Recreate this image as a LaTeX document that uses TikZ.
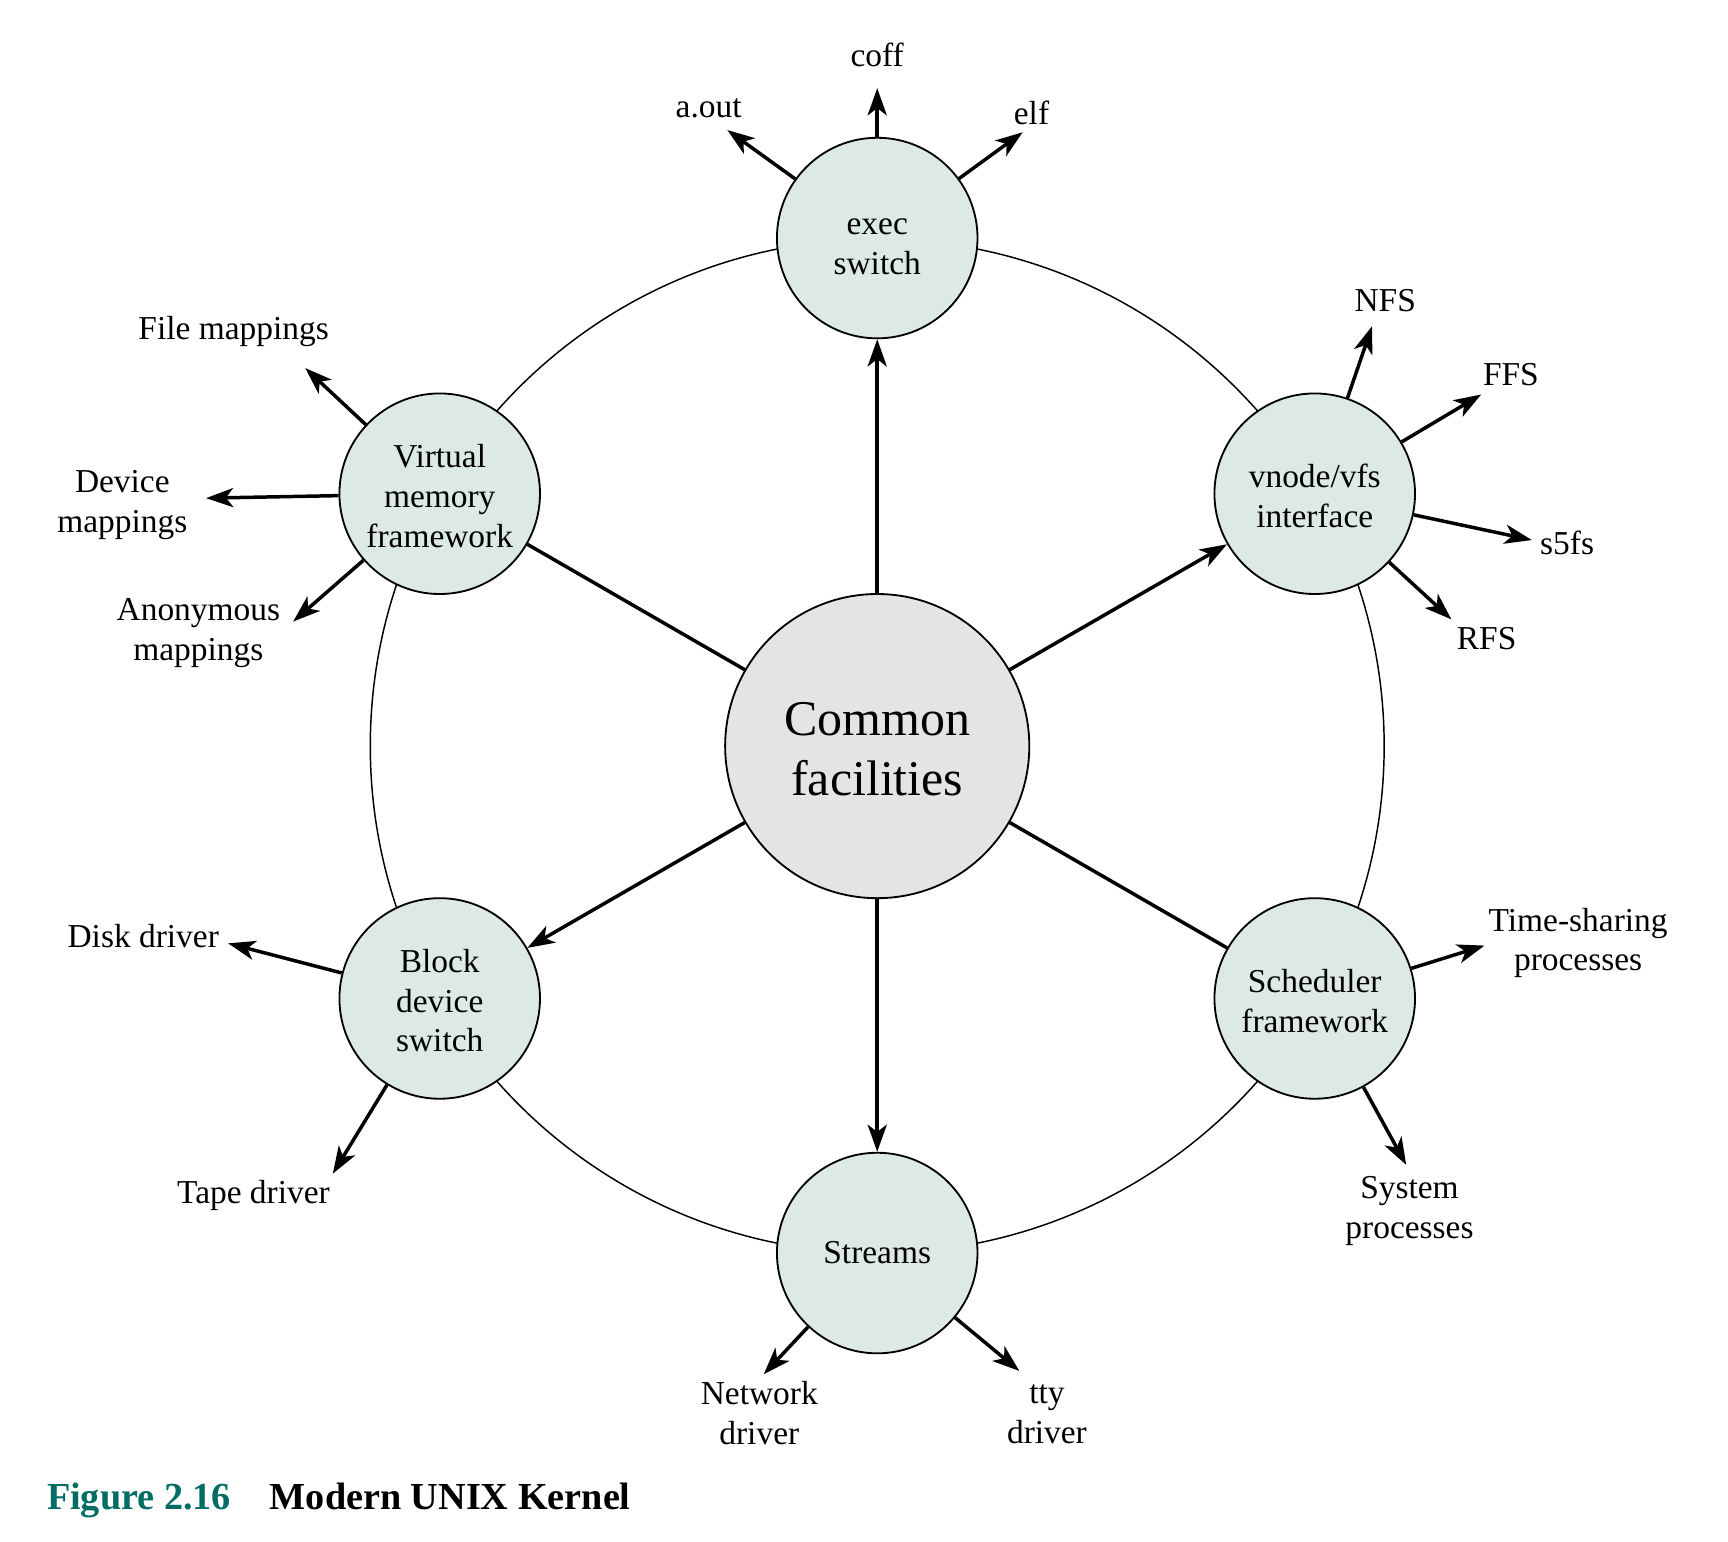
\documentclass[tikz,border=0pt]{standalone}
\usepackage{fontspec}
\setmainfont{Liberation Serif}
\usetikzlibrary{arrows.meta}
\definecolor{subfill}{RGB}{221,233,230}
\definecolor{corefill}{RGB}{228,228,226}
\definecolor{figteal}{RGB}{0,108,99}
\begin{document}
\begin{tikzpicture}[x=0.3pt,y=-0.3pt,
  sub/.style={circle,draw,line width=0.5pt,fill=subfill,minimum size=54.6pt,inner sep=0pt},
  core/.style={circle,draw,line width=0.5pt,fill=corefill,minimum size=82.8pt,inner sep=0pt},
  subtext/.style={align=center,inner sep=0pt,font=\fontsize{9.1}{10.8}\selectfont},
  coretext/.style={align=center,inner sep=0pt,font=\fontsize{13.6}{16.2}\selectfont},
  lbl/.style={align=center,inner sep=0pt,font=\fontsize{9.1}{10.8}\selectfont},
  arr/.style={line width=0.95pt,-{Stealth[length=7.4pt,width=5.2pt,inset=2pt]}},
  spoke/.style={line width=0.95pt}]
\useasboundingbox (0,0) rectangle (1568,1399);
% ring
\coordinate (ringc) at (796,677);
\draw[line width=0.4pt] (ringc) circle[radius=138pt];
% nodes
\node[core] (C) at (796,677) {};
\node[coretext] (C-t) at (796,680) {Common\\facilities};
\node[sub] (exec) at (796,216) {};
\node[subtext] (exec-t) at (796,224) {exec\\switch};
\node[sub] (vm) at (399,448) {};
\node[subtext] (vm-t) at (399,450) {Virtual\\memory\\framework};
\node[sub] (vnode) at (1193,448) {};
\node[subtext] (vnode-t) at (1193,450) {vnode/vfs\\interface};
\node[sub] (block) at (399,906) {};
\node[subtext] (block-t) at (399,908) {Block\\device\\switch};
\node[sub] (sched) at (1193,906) {};
\node[subtext] (sched-t) at (1193,908.5) {Scheduler\\framework};
\node[sub] (streams) at (796,1137) {};
\node[subtext] (streams-t) at (796,1137) {Streams};
% spokes
\draw[arr] (C) -- (exec);
\draw[spoke] (C) -- (vm);
\draw[arr] (C) -- (vnode);
\draw[arr] (C) -- (block);
\draw[spoke] (C) -- (sched);
\draw[arr] (C) -- (streams);
% exec
\coordinate (t-aout) at (660,118);
\coordinate (t-coff) at (796,80);
\coordinate (t-elf) at (928,120);
\draw[arr] (exec) -- (t-aout);
\draw[arr] (exec) -- (t-coff);
\draw[arr] (exec) -- (t-elf);
\node[lbl] (l-aout) at (643,98) {a.out};
\node[lbl] (l-coff) at (796,50) {coff};
\node[lbl] (l-elf) at (936,102) {elf};
% virtual memory
\coordinate (t-file) at (277,334);
\coordinate (t-dev) at (187,452);
\coordinate (t-anon) at (266,564);
\draw[arr] (vm) -- (t-file);
\draw[arr] (vm) -- (t-dev);
\draw[arr] (vm) -- (t-anon);
\node[lbl] (l-file) at (212,301) {File mappings};
\node[lbl] (l-dev) at (111,458) {Device\\mappings};
\node[lbl] (l-anon) at (180,574.5) {Anonymous\\mappings};
% vnode
\coordinate (t-nfs) at (1245,296);
\coordinate (t-ffs) at (1344,358);
\coordinate (t-s5) at (1390,490);
\coordinate (t-rfs) at (1317,562);
\draw[arr] (vnode) -- (t-nfs);
\draw[arr] (vnode) -- (t-ffs);
\draw[arr] (vnode) -- (t-s5);
\draw[arr] (vnode) -- (t-rfs);
\node[lbl] (l-nfs) at (1257,273) {NFS};
\node[lbl] (l-ffs) at (1371,340) {FFS};
\node[lbl] (l-s5) at (1422,493) {s5fs};
\node[lbl] (l-rfs) at (1349,579) {RFS};
% block
\coordinate (t-disk) at (207,856);
\coordinate (t-tape) at (302,1065);
\draw[arr] (block) -- (t-disk);
\draw[arr] (block) -- (t-tape);
\node[lbl] (l-disk) at (130,849) {Disk driver};
\node[lbl] (l-tape) at (230,1085) {Tape driver};
% scheduler
\coordinate (t-ts) at (1347,858);
\coordinate (t-sys) at (1276,1057);
\draw[arr] (sched) -- (t-ts);
\draw[arr] (sched) -- (t-sys);
\node[lbl] (l-ts) at (1432,855.5) {Time-sharing\\processes};
\node[lbl] (l-sys) at (1279,1099) {System\\processes};
% streams
\coordinate (t-net) at (693,1247);
\coordinate (t-tty) at (925,1244);
\draw[arr] (streams) -- (t-net);
\draw[arr] (streams) -- (t-tty);
\node[lbl] (l-net) at (689,1282) {Network\\driver};
\node[lbl] (l-tty) at (950,1283.5) {tty\\driver};
% caption
\node[anchor=base west,inner sep=0pt,font=\fontsize{10.4}{12.5}\selectfont\bfseries] (cap) at (42,1370) {\textcolor{figteal}{Figure 2.16}\hspace{10.6pt}Modern UNIX Kernel};
\end{tikzpicture}
\end{document}
